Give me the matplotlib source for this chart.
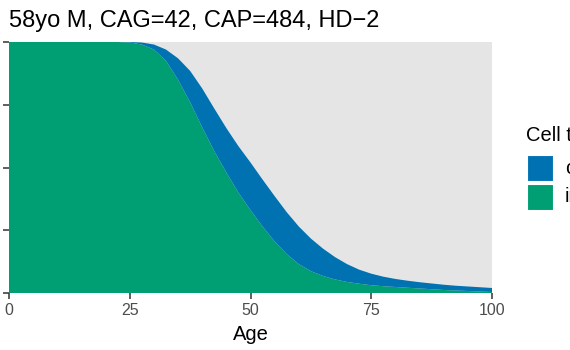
import matplotlib.pyplot as plt
from matplotlib.patches import Rectangle

plt.rcParams['font.family'] = ['Liberation Sans', 'DejaVu Sans']

# fraction of cells by age
age = [0, 5, 10, 15, 20, 22.5, 25, 27.5, 30, 32.5, 35, 37.5, 40, 42.5, 45,
       47.5, 50, 52.5, 55, 57.5, 60, 62.5, 65, 67.5, 70, 72.5, 75, 77.5, 80,
       82.5, 85, 87.5, 90, 92.5, 95, 97.5, 100]
intact = [1.0, 1.0, 1.0, 1.0, 1.0, 1.0, 0.998, 0.99, 0.97, 0.925, 0.85, 0.76,
          0.66, 0.565, 0.48, 0.40, 0.33, 0.265, 0.205, 0.155, 0.115, 0.087,
          0.068, 0.054, 0.044, 0.037, 0.031, 0.027, 0.024, 0.021, 0.018,
          0.015, 0.012, 0.010, 0.008, 0.006, 0.004]
changed = [0.0, 0.0, 0.0, 0.0, 0.0, 0.0, 0.002, 0.008, 0.02, 0.045, 0.085,
           0.125, 0.155, 0.17, 0.177, 0.185, 0.19, 0.187, 0.181, 0.167, 0.15,
           0.13, 0.109, 0.089, 0.071, 0.056, 0.046, 0.038, 0.032, 0.028,
           0.025, 0.023, 0.021, 0.019, 0.018, 0.017, 0.016]
xticks = [0, 25, 50, 75, 100]
yticks = [0, 0.25, 0.5, 0.75, 1]
legend_labels = ['changed', 'intact']

blue = '#0072B2'
green = '#009E73'

fig = plt.figure(figsize=(5.7, 3.5), dpi=100)
ax = fig.add_axes([9 / 570, 1 - 293 / 350, 483 / 570, 251 / 350])
ax.set_facecolor('#E5E5E5')
ax.stackplot(age, intact, changed, colors=[green, blue], linewidth=0)
ax.set_xlim(0, 100)
ax.set_ylim(0, 1)
ax.set_xticks(xticks)
ax.set_yticks(yticks)
ax.set_yticklabels([])
for s in ax.spines.values():
    s.set_visible(False)
ax.tick_params(length=4, width=1.1, color='#333333', labelsize=11.5,
               labelcolor='#4D4D4D', pad=3)
ax.set_xlabel('Age', fontsize=14.5, labelpad=5)

fig.text(9 / 570, 1 - 27 / 350, '58yo M, CAG=42, CAP=484, HD\u22122',
         fontsize=17, ha='left', va='baseline')

# legend, clipped by the right edge like the reference
fig.text(526 / 570, 1 - 141 / 350, 'Cell type', fontsize=14.5, ha='left',
         va='baseline')
for i, (lab, col) in enumerate(zip(legend_labels, [blue, green])):
    y0 = 155 + i * 29
    fig.patches.append(Rectangle((527 / 570, 1 - (y0 + 26) / 350), 26 / 570,
                                 26 / 350, transform=fig.transFigure,
                                 facecolor=col, edgecolor='white', lw=0.8))
    fig.text(565 / 570, 1 - (y0 + 13) / 350, lab, fontsize=14.5, ha='left',
             va='center')

fig.savefig('out.png', dpi=100)
